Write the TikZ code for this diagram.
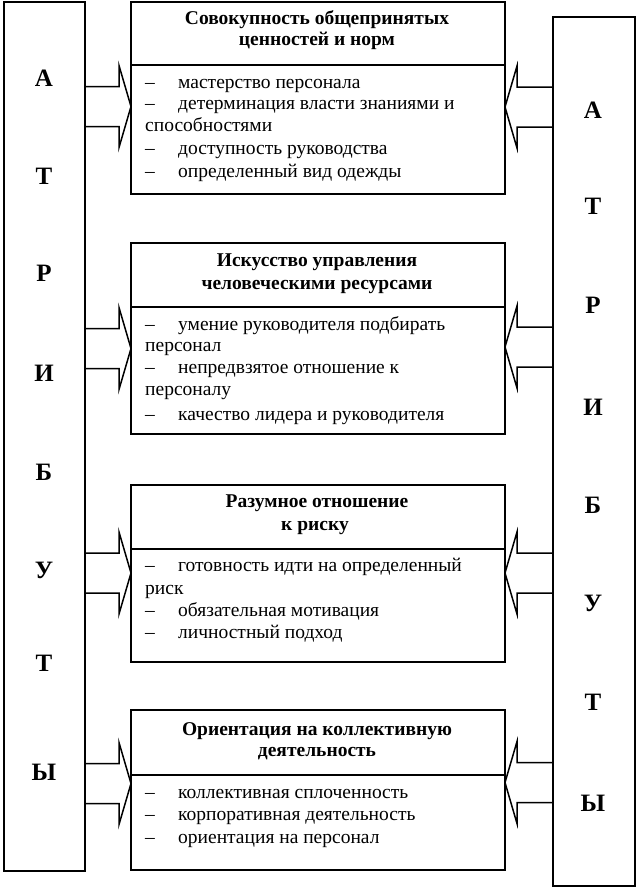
\documentclass[tikz,border=0pt]{standalone}
\usepackage{fontspec}
\setmainfont{Liberation Serif}
\begin{document}
\begin{tikzpicture}[x=1pt,y=-1pt,
  frame/.style={draw, line width=1.5pt, inner sep=0pt, outer sep=0pt},
  letter/.style={font=\fontsize{25}{27}\selectfont\bfseries, anchor=center, inner sep=0pt},
  hdr/.style={font=\fontsize{19.5}{22}\selectfont\bfseries, anchor=mid, inner sep=0pt},
  itm/.style={font=\fontsize{19.5}{22}\selectfont, anchor=mid west, inner sep=0pt},
  blockarrow/.style={draw, line width=1.5pt, line join=miter}]
\useasboundingbox (0,0) rectangle (640,889);

% side frames
\node[frame, minimum width=81pt, minimum height=869pt] (L) at (44.5,436.5) {};
\node[frame, minimum width=82pt, minimum height=869pt] (R) at (594,451.5) {};

% central boxes
\node[frame, minimum width=374pt, minimum height=192pt] (B1) at (318,98) {};
\node[frame, minimum width=374pt, minimum height=191pt] (B2) at (318,338.5) {};
\node[frame, minimum width=374pt, minimum height=177pt] (B3) at (318,573.5) {};
\node[frame, minimum width=374pt, minimum height=160pt] (B4) at (318,790) {};

\draw[line width=1.5pt] (B1.west |- 0,65) -- (B1.east |- 0,65);
\draw[line width=1.5pt] (B2.west |- 0,307) -- (B2.east |- 0,307);
\draw[line width=1.5pt] (B3.west |- 0,549) -- (B3.east |- 0,549);
\draw[line width=1.5pt] (B4.west |- 0,775) -- (B4.east |- 0,775);

% block arrows: left frame -> box, right frame -> box
\newcommand\leftarrowto[2]{%
  \draw[blockarrow] (L.east |- 0,{#1-20}) -- ([xshift=-12pt]#2.west |- 0,{#1-20})
    -- ([xshift=-12pt]#2.west |- 0,{#1-41}) -- (#2.west |- 0,#1)
    -- ([xshift=-12pt]#2.west |- 0,{#1+41}) -- ([xshift=-12pt]#2.west |- 0,{#1+20})
    -- (L.east |- 0,{#1+20});}
\newcommand\rightarrowto[2]{%
  \draw[blockarrow] (R.west |- 0,{#1-20}) -- ([xshift=12pt]#2.east |- 0,{#1-20})
    -- ([xshift=12pt]#2.east |- 0,{#1-41}) -- (#2.east |- 0,#1)
    -- ([xshift=12pt]#2.east |- 0,{#1+41}) -- ([xshift=12pt]#2.east |- 0,{#1+20})
    -- (R.west |- 0,{#1+20});}
\leftarrowto{106.5}{B1}
\leftarrowto{348.5}{B2}
\leftarrowto{573}{B3}
\leftarrowto{783.5}{B4}
\rightarrowto{107}{B1}
\rightarrowto{347}{B2}
\rightarrowto{573}{B3}
\rightarrowto{782.5}{B4}

% side letters
\node[letter] (la) at (44,78) {А};
\node[letter] (lt) at (44,176) {Т};
\node[letter] (lr) at (44,273) {Р};
\node[letter] (li) at (44,373) {И};
\node[letter] (lb) at (44,472) {Б};
\node[letter] (lu) at (44,570) {У};
\node[letter] (lt2) at (44,663) {Т};
\node[letter] (ly) at (44,772) {Ы};
\node[letter] (ra) at (593,110) {А};
\node[letter] (rt) at (593,206) {Т};
\node[letter] (rr) at (593,305) {Р};
\node[letter] (ri) at (593,407) {И};
\node[letter] (rb) at (593,505) {Б};
\node[letter] (ru) at (593,603) {У};
\node[letter] (rt2) at (593,702) {Т};
\node[letter] (ry) at (593,803) {Ы};

% headers
\node[hdr] (h1a) at (317,22) {Совокупность общепринятых};
\node[hdr] (h1b) at (317,43) {ценностей и норм};
\node[hdr] (h2a) at (317,264) {Искусство управления};
\node[hdr] (h2b) at (317,287) {человеческими ресурсами};
\node[hdr] (h3a) at (317,505) {Разумное отношение};
\node[hdr] (h3b) at (315,528) {к риску};
\node[hdr] (h4a) at (317,733) {Ориентация на коллективную};
\node[hdr] (h4b) at (317,754) {деятельность};

% items
\newcommand\dashitem[3]{\node[itm] (#1d) at (145,#2) {–};\node[itm] (#1) at (178,#2) {#3};}
\newcommand\contline[3]{\node[itm] (#1) at (145,#2) {#3};}
\dashitem{i11}{86}{мастерство персонала}
\dashitem{i12}{107}{детерминация власти знаниями и}
\contline{i13}{129}{способностями}
\dashitem{i14}{152}{доступность руководства}
\dashitem{i15}{175}{определенный вид одежды}

\dashitem{i21}{328}{умение руководителя подбирать}
\contline{i22}{349}{персонал}
\dashitem{i23}{371}{непредвзятое отношение к}
\contline{i24}{393}{персоналу}
\dashitem{i25}{418}{качество лидера и руководителя}

\dashitem{i31}{569}{готовность идти на определенный}
\contline{i32}{592}{риск}
\dashitem{i33}{614}{обязательная мотивация}
\dashitem{i34}{636}{личностный подход}

\dashitem{i41}{796}{коллективная сплоченность}
\dashitem{i42}{818}{корпоративная деятельность}
\dashitem{i43}{841}{ориентация на персонал}
\end{tikzpicture}
\end{document}
